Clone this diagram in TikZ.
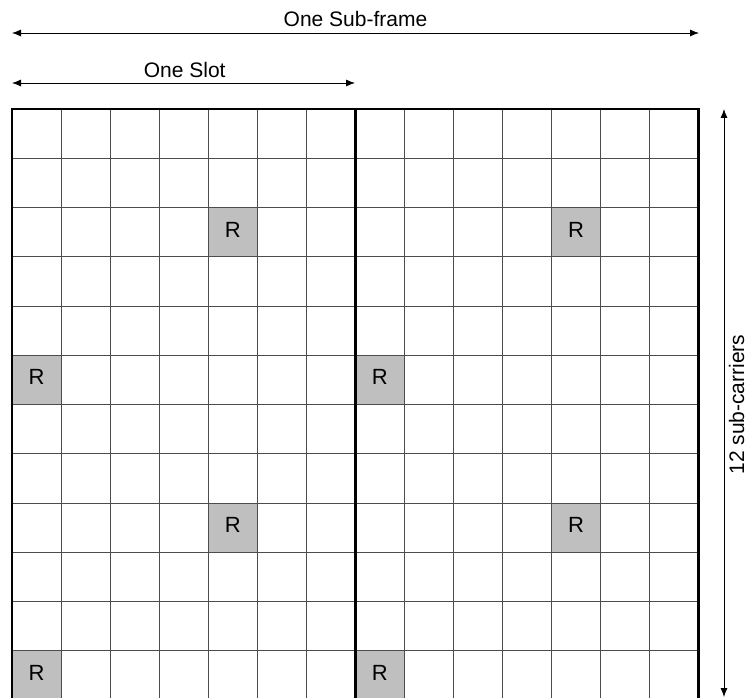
\documentclass[tikz,border=0pt]{standalone}
\usepackage{fontspec}
\setmainfont{Liberation Sans}
\usetikzlibrary{arrows.meta}
\tikzset{
  thin grid/.style={draw=black!70, line width=0.9pt},
  thick frame/.style={draw=black, line width=2.6pt},
  dim arrow/.style={draw=black, line width=0.8pt, {Latex[length=9pt,width=7pt]}-{Latex[length=9pt,width=7pt]}},
  lbl/.style={font=\fontsize{21}{24}\selectfont, inner sep=0pt},
  rcell/.style={fill=black!25, draw=black!70, line width=0.9pt, minimum width=49.05pt, minimum height=49.25pt, inner sep=0pt, font=\fontsize{22}{24}\selectfont}
}
\begin{document}
\begin{tikzpicture}[x=1pt,y=-1pt]
\useasboundingbox (0,0) rectangle (749,698);
\clip (0,0) rectangle (749,698);
\def\cw{49.05}
\def\rh{49.25}
% R cells
\foreach \c/\r/\n in {5/3/a,1/6/b,5/9/c,1/12/d,8/6/e,12/3/f,12/9/g,8/12/h}{
  \node[rcell] (R\n) at ({12+(\c-0.5)*\cw},{109+(\r-0.5)*\rh}) {};
  \node[font=\fontsize{22}{24}\selectfont, inner sep=0pt] (T\n) at ([yshift=2.5pt]R\n.center) {R};
}
% thin grid
\foreach \i in {1,...,13}{
  \draw[thin grid] ({12+\i*\cw},109) -- ({12+\i*\cw},{109+12*\rh});
}
\foreach \j in {1,...,11}{
  \draw[thin grid] (12,{109+\j*\rh}) -- ({12+14*\cw},{109+\j*\rh});
}
% thick frame
\draw[thick frame] (12,109) rectangle ({12+14*\cw},{109+12*\rh});
\draw[thick frame] ({12+7*\cw},109) -- ({12+7*\cw},{109+12*\rh});
% dimension arrows
\coordinate (sfL) at (12,33);
\coordinate (sfR) at (699,33);
\coordinate (slL) at (12,83);
\coordinate (slR) at (355,83);
\coordinate (scT) at (724,109);
\coordinate (scB) at (724,697);
\draw[dim arrow] (sfL) -- (sfR);
\draw[dim arrow] (slL) -- (slR);
\draw[dim arrow] (scT) -- (scB);
\node[lbl, anchor=base] (subframe) at (355.5,27) {One Sub-frame};
\node[lbl, anchor=base] (slot) at (184.7,77.5) {One Slot};
\node[lbl, rotate=90, anchor=base] (carriers) at (744,404.5) {12 sub-carriers};
\end{tikzpicture}
\end{document}
